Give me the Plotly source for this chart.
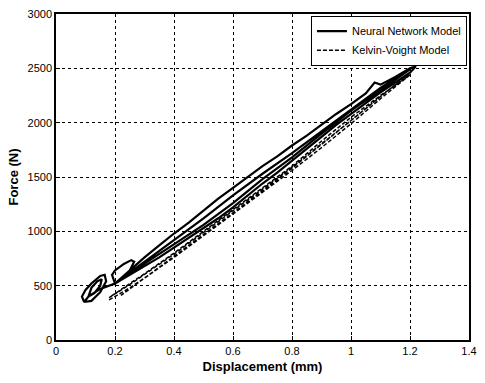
import plotly.graph_objects as go

# Neural Network Model (solid) - hysteresis trace
nn_x = [0.095, 0.12, 0.15, 0.17, 0.165, 0.15, 0.12, 0.10, 0.088, 0.095,
        0.11, 0.13, 0.15, 0.155, 0.14, 0.12, 0.11,
        0.15, 0.20, 0.22, 0.25, 0.265, 0.255, 0.23, 0.20, 0.19, 0.20,
        0.25, 0.30, 0.35, 0.40, 0.45, 0.50, 0.55, 0.60, 0.65, 0.70, 0.75, 0.80,
        0.85, 0.90, 0.95, 1.00, 1.05, 1.08, 1.10, 1.15, 1.20, 1.22,
        1.20, 1.15, 1.10, 1.05, 1.00, 0.95, 0.90, 0.85, 0.80, 0.75, 0.70, 0.65,
        0.60, 0.55, 0.50, 0.45, 0.40, 0.35, 0.30, 0.25, 0.20,
        0.25, 0.30, 0.40, 0.50, 0.60, 0.70, 0.80, 0.90, 1.00, 1.10, 1.20,
        1.10, 1.00, 0.90, 0.80, 0.70, 0.60, 0.50, 0.40, 0.30, 0.22]
nn_y = [350, 360, 440, 540, 600, 590, 520, 460, 400, 350,
        400, 430, 500, 560, 540, 480, 400,
        470, 520, 560, 640, 720, 735, 700, 640, 600, 520,
        640, 760, 870, 980, 1080, 1190, 1300, 1400, 1500, 1600, 1690, 1790,
        1880, 1980, 2080, 2170, 2270, 2370, 2350, 2420, 2500, 2520,
        2460, 2370, 2280, 2180, 2080, 1980, 1870, 1760, 1650, 1540, 1440, 1330,
        1220, 1120, 1030, 940, 850, 760, 680, 600, 520,
        620, 720, 920, 1120, 1330, 1530, 1720, 1920, 2120, 2320, 2490,
        2300, 2110, 1900, 1680, 1480, 1260, 1060, 880, 700, 560]

# Kelvin-Voight Model (dashed)
kv_x = [0.18, 0.25, 0.30, 0.40, 0.50, 0.60, 0.70, 0.80, 0.90, 1.00, 1.10, 1.20,
        1.10, 1.00, 0.90, 0.80, 0.70, 0.60, 0.50, 0.40, 0.30, 0.20, 0.18,
        0.25, 0.40, 0.60, 0.80, 1.00, 1.20,
        1.00, 0.80, 0.60, 0.40, 0.22]
kv_y = [370, 480, 570, 760, 960, 1160, 1360, 1560, 1770, 1990, 2220, 2440,
        2250, 2050, 1830, 1600, 1400, 1200, 1000, 800, 610, 420, 390,
        510, 790, 1190, 1590, 2020, 2460,
        2020, 1580, 1170, 770, 410]

x_ticks = [0, 0.2, 0.4, 0.6, 0.8, 1, 1.2, 1.4]
x_tick_text = ["0", "0.2", "0.4", "0.6", "0.8", "1", "1.2", "1.4"]
y_ticks = [0, 500, 1000, 1500, 2000, 2500, 3000]

fig = go.Figure()
fig.add_trace(go.Scatter(x=nn_x, y=nn_y, mode="lines", name="Neural Network Model",
                         line=dict(color="black", width=2.2)))
fig.add_trace(go.Scatter(x=kv_x, y=kv_y, mode="lines", name="Kelvin-Voight Model",
                         line=dict(color="black", width=1.5, dash="4px,2px")))

axis_common = dict(showline=True, mirror=True, linecolor="black", linewidth=1.5,
                   ticks="inside", ticklen=4, tickcolor="black",
                   showgrid=True, gridcolor="black", gridwidth=1, griddash="dot",
                   zeroline=False, tickfont=dict(family="Liberation Sans", size=11, color="black"))

fig.update_xaxes(range=[0, 1.4], tickvals=x_ticks, ticktext=x_tick_text,
                 title=dict(text="<b>Displacement (mm)</b>", standoff=6,
                            font=dict(family="Liberation Sans", size=13, color="black")),
                 **axis_common)
fig.update_yaxes(range=[0, 3000], tickvals=y_ticks,
                 title=dict(text="<b>Force (N)</b>", standoff=6,
                            font=dict(family="Liberation Sans", size=13, color="black")),
                 **axis_common)

fig.update_layout(width=485, height=383, margin=dict(l=56, r=8, t=10, b=43),
                  paper_bgcolor="white", plot_bgcolor="white",
                  legend=dict(x=0.995, y=0.995, xanchor="right", yanchor="top",
                              bgcolor="white", bordercolor="black", borderwidth=1,
                              font=dict(family="Liberation Sans", size=11, color="black"),
                              tracegroupgap=0, itemwidth=30),
                  showlegend=True)

fig.write_html("out.html")
